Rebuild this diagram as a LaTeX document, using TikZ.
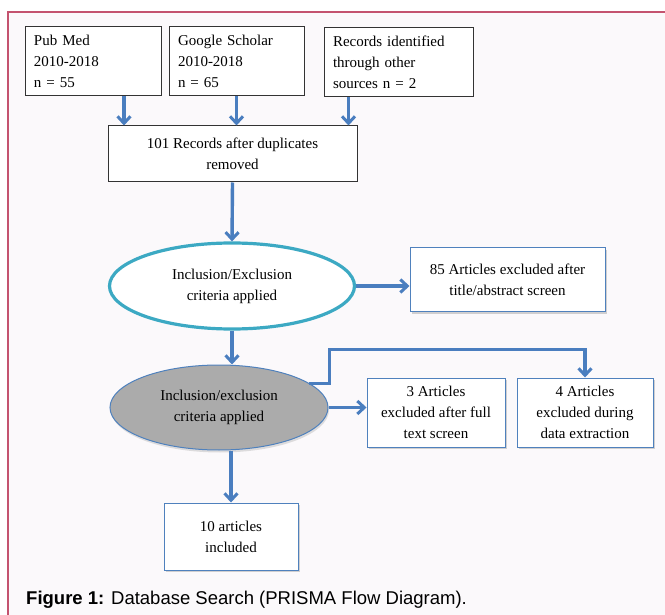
\documentclass[tikz,border=0pt]{standalone}
\usepackage{fontspec}
\setmainfont{Liberation Serif}
\newfontfamily\capfont{Liberation Sans}
\usepackage{tikz}
\usetikzlibrary{positioning,arrows.meta,shadows,shapes.geometric}

\definecolor{flowblue}{HTML}{4A7EBF}
\definecolor{edgeblue}{HTML}{4F81BD}
\definecolor{ringteal}{HTML}{3CA9C3}
\definecolor{framepink}{HTML}{C4536F}
\definecolor{paper}{HTML}{FBF9FB}

\tikzset{
  srcbox/.style={draw=black!80, line width=1pt, fill=white, align=left,
    text width=#1, minimum height=69pt, inner xsep=9pt},
  dupbox/.style={draw=black!80, line width=1pt, fill=white, align=center,
    minimum width=249pt, minimum height=56pt},
  outbox/.style={draw=edgeblue, line width=1pt, fill=white, align=center,
    drop shadow={shadow xshift=1.5pt, shadow yshift=-2pt, fill=black!35}},
  flow/.style={draw=flowblue, line width=3.4pt,
    -{Straight Barb[length=7pt,width=13pt,line width=3pt]}},
}

\begin{document}
\begin{tikzpicture}[x=1pt,y=-1pt, font=\fontsize{15}{21}\selectfont]
\useasboundingbox (0,0) rectangle (665,615);
\fill[paper] (8,12) rectangle (690,640);
\draw[framepink, line width=1.4pt] (8,640) -- (8,12) -- (690,12);

% sources
\node[srcbox=118pt] (pubmed) at (93,61.5) {Pub Med\\2010-2018\\n = 55};
\node[srcbox=117pt] (google) at (236.5,61.5) {Google Scholar\\2010-2018\\n = 65};
\node[srcbox=131pt] (other) at (398.5,62.5) {Records identified\\through other\\sources n = 2};
\node[dupbox] (dup) at (232.5,154) {101 Records after duplicates\\removed};

% screening
\node[ellipse, draw=ringteal, line width=3.2pt, fill=white, align=center,
  minimum width=245pt, minimum height=86pt] (incl1) at (232,286)
  {Inclusion/Exclusion\\criteria applied};
\node[outbox, minimum width=195pt, minimum height=64pt] (excl85) at (507.5,280)
  {85 Articles excluded after\\title/abstract screen};
\node[ellipse, draw=edgeblue, line width=1pt, fill=black!33, align=center,
  minimum width=218pt, minimum height=85pt,
  drop shadow={shadow xshift=1pt, shadow yshift=-2.5pt, fill=black!25}] (incl2) at (219,407.5)
  {Inclusion/exclusion\\criteria applied};
\node[outbox, minimum width=138pt, minimum height=69pt] (excl3) at (436,412.5)
  {3 Articles\\excluded after full\\text screen};
\node[outbox, minimum width=136pt, minimum height=69pt] (excl4) at (585,412.5)
  {4 Articles\\excluded during\\data extraction};
\node[outbox, minimum width=134pt, minimum height=67pt] (incl10) at (231,536.5)
  {10 articles\\included};

% connectors
\draw[flow] ([xshift=31pt]pubmed.south) -- ([xshift=31pt]pubmed.south |- dup.north);
\draw[flow] (google.south) -- (google.south |- dup.north);
\draw[flow] ([xshift=-50pt]other.south) -- ([xshift=-50pt]other.south |- dup.north);
\draw[flow] (dup.south) -- (incl1.north);
\draw[flow] (incl1.east) -- (incl1.east -| excl85.west);
\draw[flow] (incl1.south) -- (incl1.south |- incl2.north);
\draw[flow] (incl2.east) -- (incl2.east -| excl3.west);
\draw[flow] (incl2.15) -- ++(20,0) |- ([yshift=28pt]excl4.north) -- (excl4.north);
\draw[flow] (incl10.north |- incl2.south) -- (incl10.north);

\node[anchor=base west, inner sep=0pt, font=\capfont\fontsize{18.5}{22}\selectfont] (caption) at (26,604)
  {\textbf{Figure 1:} Database Search (PRISMA Flow Diagram).};
\end{tikzpicture}
\end{document}
